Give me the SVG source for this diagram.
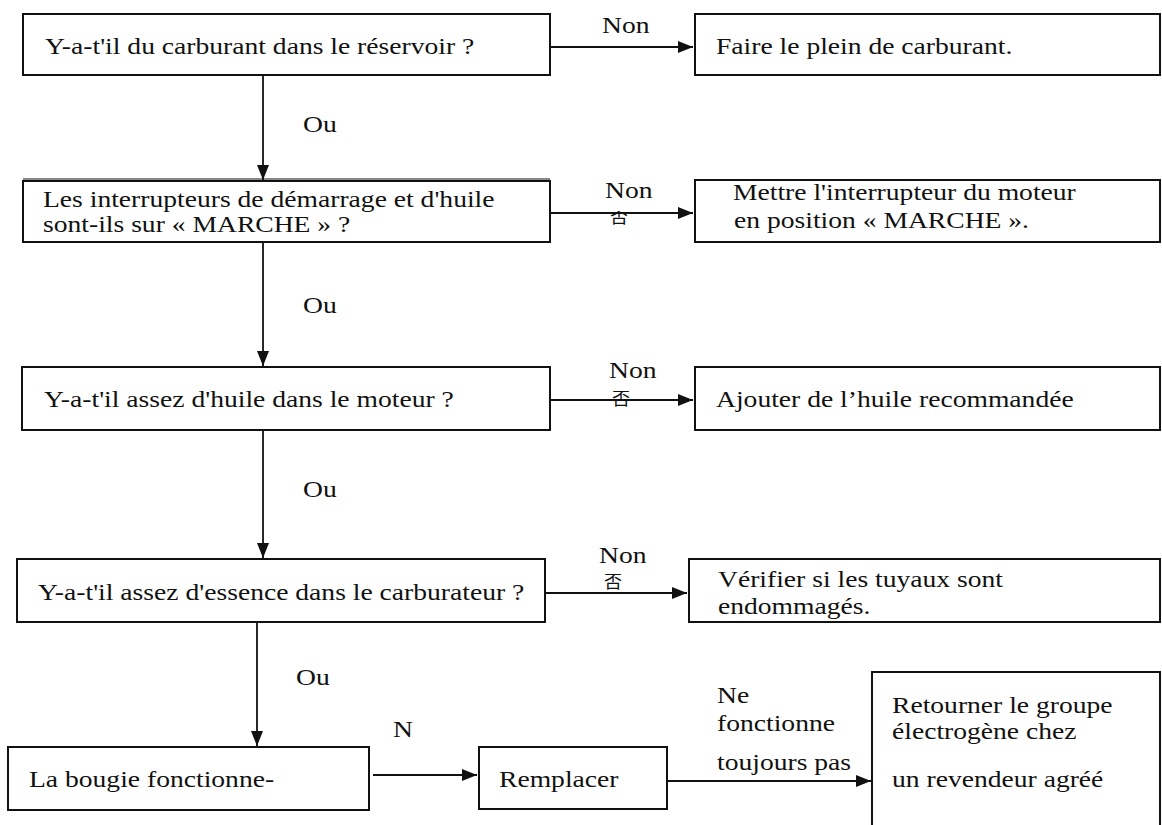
<svg xmlns="http://www.w3.org/2000/svg" width="1162" height="825" viewBox="0 0 1162 825">
<style>
.box{fill:#fff;stroke:#111;stroke-width:2}
.ln{fill:none;stroke:#111;stroke-width:1.8}
.t{font-family:'Liberation Serif','Times New Roman','DejaVu Serif',serif;font-size:23px;fill:#111}
.cjk{font-family:'Noto Sans CJK SC',sans-serif;font-size:18px;fill:#111}
</style>
<defs>
<marker id="ah" markerUnits="userSpaceOnUse" markerWidth="16" markerHeight="12" refX="15" refY="6" orient="auto">
<path d="M0,0 L15,6 L0,12 z" fill="#111"/>
</marker>
<clipPath id="c1"><rect x="600" y="211" width="40" height="14"/></clipPath>
<clipPath id="c2"><rect x="600" y="391" width="40" height="18"/></clipPath>
<clipPath id="c3"><rect x="595" y="574" width="40" height="18"/></clipPath>
</defs>
<rect width="1162" height="825" fill="#fff"/>

<g id="connectors">
<line class="ln" x1="550" y1="47" x2="693" y2="47" marker-end="url(#ah)"/>
<line class="ln" x1="263" y1="75" x2="263" y2="180" marker-end="url(#ah)"/>
<line class="ln" x1="550" y1="213" x2="693" y2="213" marker-end="url(#ah)"/>
<line class="ln" x1="263" y1="242" x2="263" y2="366" marker-end="url(#ah)"/>
<line class="ln" x1="550" y1="400" x2="693" y2="400" marker-end="url(#ah)"/>
<line class="ln" x1="263" y1="430" x2="263" y2="558" marker-end="url(#ah)"/>
<line class="ln" x1="545" y1="593" x2="687" y2="593" marker-end="url(#ah)"/>
<line class="ln" x1="257" y1="622" x2="257" y2="746" marker-end="url(#ah)"/>
<line class="ln" x1="373" y1="775" x2="477" y2="775" marker-end="url(#ah)"/>
<line class="ln" x1="667" y1="781" x2="871" y2="781" marker-end="url(#ah)"/>
<text class="t" transform="translate(602 33) scale(1.2 1)">Non</text>
<text class="t" transform="translate(303 132) scale(1.2 1)">Ou</text>
<text class="t" transform="translate(605 198) scale(1.2 1)">Non</text>
<text class="t" transform="translate(303 313) scale(1.2 1)">Ou</text>
<text class="t" transform="translate(609 378) scale(1.2 1)">Non</text>
<text class="t" transform="translate(303 497) scale(1.2 1)">Ou</text>
<text class="t" transform="translate(599 563) scale(1.2 1)">Non</text>
<text class="t" transform="translate(296 685) scale(1.2 1)">Ou</text>
<text class="t" transform="translate(393 737) scale(1.2 1)">N</text>
<text class="t" transform="translate(717 703) scale(1.2 1)">Ne</text>
<text class="t" transform="translate(717 731) scale(1.2 1)">fonctionne</text>
<text class="t" transform="translate(717 770) scale(1.2 1)">toujours pas</text>
<text class="cjk" x="610" y="223" clip-path="url(#c1)">否</text>
<text class="cjk" x="612" y="405" clip-path="url(#c2)">否</text>
<text class="cjk" x="604" y="588" clip-path="url(#c3)">否</text>
</g>

<g id="q1">
<rect class="box" x="23" y="14" width="527" height="61"/>
<text class="t" transform="translate(45 54) scale(1.2 1)">Y-a-t'il du carburant dans le réservoir ?</text>
</g>
<g id="a1">
<rect class="box" x="695" y="14" width="465" height="61"/>
<text class="t" transform="translate(716 54) scale(1.2 1)">Faire le plein de carburant.</text>
</g>

<g id="q2">
<rect class="box" x="23" y="181" width="527" height="61"/>
<line x1="23" y1="179" x2="550" y2="179" stroke="#111" stroke-width="1"/>
<text class="t" transform="translate(43 207) scale(1.2 1)">Les interrupteurs de démarrage et d'huile</text>
<text class="t" transform="translate(43 232) scale(1.2 1)">sont-ils sur « MARCHE » ?</text>
</g>
<g id="a2">
<rect class="box" x="695" y="180" width="465" height="62"/>
<text class="t" transform="translate(733 200) scale(1.2 1)">Mettre l'interrupteur du moteur</text>
<text class="t" transform="translate(734 228) scale(1.2 1)">en position « MARCHE ».</text>
</g>

<g id="q3">
<rect class="box" x="22" y="367" width="528" height="63"/>
<text class="t" transform="translate(44 407) scale(1.2 1)">Y-a-t'il assez d'huile dans le moteur ?</text>
</g>
<g id="a3">
<rect class="box" x="695" y="367" width="465" height="63"/>
<text class="t" transform="translate(716 407) scale(1.2 1)">Ajouter de l’huile recommandée</text>
</g>

<g id="q4">
<rect class="box" x="17" y="559" width="528" height="63"/>
<text class="t" transform="translate(38 600) scale(1.2 1)">Y-a-t'il assez d'essence dans le carburateur ?</text>
</g>
<g id="a4">
<rect class="box" x="689" y="559" width="471" height="63"/>
<text class="t" transform="translate(718 587) scale(1.2 1)">Vérifier si les tuyaux sont</text>
<text class="t" transform="translate(718 614) scale(1.2 1)">endommagés.</text>
</g>

<g id="q5">
<rect class="box" x="8" y="747" width="361" height="63"/>
<text class="t" transform="translate(29 787) scale(1.2 1)">La bougie fonctionne-</text>
</g>
<g id="a5">
<rect class="box" x="479" y="747" width="188" height="62"/>
<text class="t" transform="translate(499 787) scale(1.2 1)">Remplacer</text>
</g>
<g id="a6">
<path class="box" d="M872,826 V672 H1160 V826"/>
<text class="t" transform="translate(892 713) scale(1.2 1)">Retourner le groupe</text>
<text class="t" transform="translate(892 739) scale(1.2 1)">électrogène chez</text>
<text class="t" transform="translate(892 787) scale(1.2 1)">un revendeur agréé</text>
</g>
</svg>
